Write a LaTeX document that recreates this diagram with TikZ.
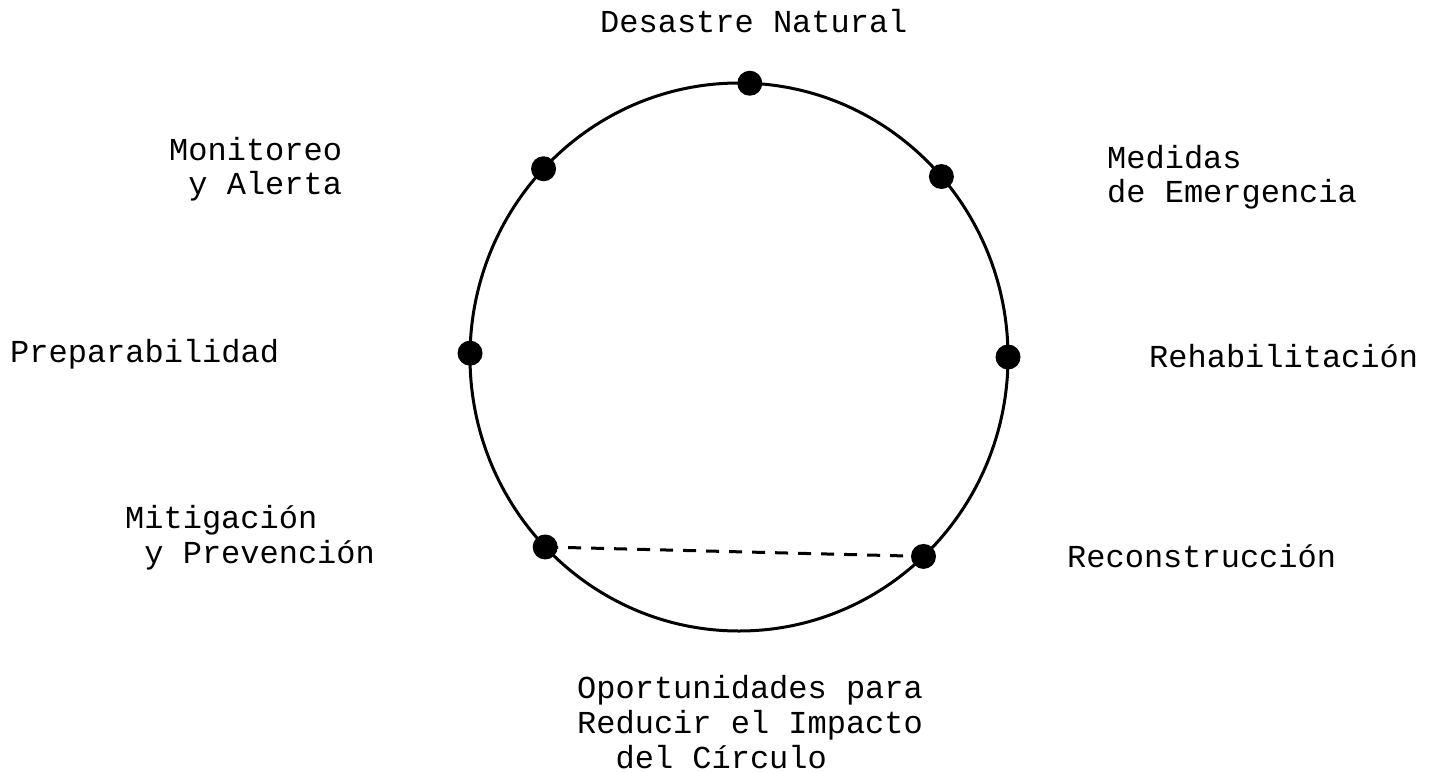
\documentclass[tikz,border=0pt]{standalone}
\usepackage{fontspec}
\setmonofont{Liberation Mono}
\usetikzlibrary{calc}
\tikzset{
  lbl/.style={anchor=base west, inner sep=0pt, font=\ttfamily\fontsize{32}{34}\selectfont},
  dot/.style={circle, fill=black, inner sep=0pt, minimum size=25pt},
  ring/.style={line width=3pt},
  chord/.style={line width=3pt, dash pattern=on 13pt off 10pt}
}
\begin{document}
\begin{tikzpicture}[x=1pt,y=-1pt]
\useasboundingbox[fill=white] (0,0) rectangle (1442,773);
\coordinate (c) at (739,357);
\draw[ring] (c) ellipse [x radius=269pt, y radius=274pt];
\node[dot] (top) at ($(c)+(87.7:269pt and 274pt)$) {};
\node[dot] (mon) at ($(c)+(136.6:269pt and 274pt)$) {};
\node[dot] (med) at ($(c)+(41.2:269pt and 274pt)$) {};
\node[dot] (pre) at ($(c)+(179.2:269pt and 274pt)$) {};
\node[dot] (reh) at ($(c)+(0:269pt and 274pt)$) {};
\node[dot] (mit) at ($(c)+(223.9:269pt and 274pt)$) {};
\node[dot] (rec) at ($(c)+(313.3:269pt and 274pt)$) {};
\draw[chord] (mit.center) -- (rec.center);

\node[lbl] (t1) at (600,33) {Desastre Natural};
\node[lbl] (t2a) at (169,160) {Monitoreo};
\node[lbl] (t2b) at (169,194) {\phantom{M}y Alerta};
\node[lbl] (t3a) at (1107,168) {Medidas};
\node[lbl] (t3b) at (1107,202) {de Emergencia};
\node[lbl] (t4) at (10,362) {Preparabilidad};
\node[lbl] (t5) at (1149,367) {Rehabilitación};
\node[lbl] (t6a) at (125,528) {Mitigación};
\node[lbl] (t6b) at (125,563) {\phantom{M}y Prevención};
\node[lbl] (t7) at (1067,567) {Reconstrucción};
\node[lbl] (t8a) at (577,698) {Oportunidades para};
\node[lbl] (t8b) at (577,733) {Reducir el Impacto};
\node[lbl] (t8c) at (577,768) {\phantom{MM}del Círculo};
\end{tikzpicture}
\end{document}
